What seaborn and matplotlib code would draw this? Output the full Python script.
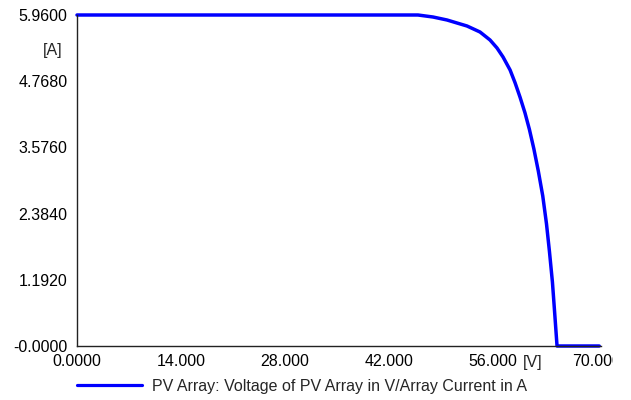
import matplotlib
matplotlib.use("Agg")
import matplotlib.pyplot as plt
from matplotlib.transforms import Bbox, TransformedBbox
import seaborn as sns
import pandas as pd

voltage = [0, 10, 20, 30, 40, 45.9, 47.92, 49.81, 51.15, 52.5, 54.25, 55.6, 56.54, 57.35,
           58.3, 58.97, 59.64, 60.3, 60.9, 61.5, 62.1, 62.7, 63.2, 63.6, 64.0, 64.3,
           64.62, 70.3]
current = [5.96, 5.96, 5.96, 5.96, 5.96, 5.96, 5.924, 5.87, 5.816, 5.762, 5.654, 5.51, 5.366, 5.204,
           4.97, 4.74, 4.48, 4.2, 3.9, 3.55, 3.15, 2.7, 2.2, 1.7, 1.15, 0.6,
           0.0, 0.0]
xticks = [0, 14, 28, 42, 56, 70]
xticklabels = ["0.0000", "14.000", "28.000", "42.000", "56.000", "70.000"]
yticks = [0, 1.192, 2.384, 3.576, 4.768, 5.96]
yticklabels = ["-0.0000", "1.1920", "2.3840", "3.5760", "4.7680", "5.9600"]
series_name = "PV Array: Voltage of PV Array in V/Array Current in A"

df = pd.DataFrame({"V": voltage, "I": current, "series": series_name})

sns.set_style("white")
plt.rcParams["font.family"] = ["Liberation Sans", "DejaVu Sans"]
FS = 11.5

fig = plt.figure(figsize=(6.31, 4.0), dpi=100)
ax = fig.add_axes([77 / 631, 1 - 346 / 400, (597 - 77) / 631, (346 - 15) / 400])

sns.lineplot(data=df, x="V", y="I", hue="series", palette=["#0000ff"], ax=ax,
             linewidth=2.5, clip_on=False, legend=True)

ax.set_xlim(0, 70)
ax.set_ylim(0, 5.96)
ax.set_xticks(xticks)
ax.set_xticklabels(xticklabels, fontsize=FS)
ax.set_yticks(yticks)
ax.set_yticklabels(yticklabels, fontsize=FS)
ax.tick_params(axis="both", length=0, colors="black")
ax.tick_params(axis="x", pad=6)
ax.tick_params(axis="y", pad=7)
ax.set_xlabel("")
ax.set_ylabel("")
for s in ["top", "right"]:
    ax.spines[s].set_visible(False)
for s in ["left", "bottom"]:
    ax.spines[s].set_color("#222222")
    ax.spines[s].set_linewidth(1.0)
ax.spines["bottom"].set_bounds(0, 70.5)

clip = TransformedBbox(Bbox.from_extents(0, 0, 6.13, 4.0), fig.dpi_scale_trans)
for lab in ax.get_xticklabels():
    lab.set_clip_on(True)
    lab.set_clip_box(clip)

fig.text(63 / 631, 1 - 50 / 400, "[A]", fontsize=FS, ha="right", va="center")
fig.text(533 / 631, 1 - 363 / 400, "[V]", fontsize=FS, ha="center", va="center")

leg = ax.legend(loc="center left", bbox_to_anchor=(77 / 631, 1 - 386 / 400),
                bbox_transform=fig.transFigure, frameon=False, fontsize=FS,
                handlelength=4.1, handletextpad=0.6, borderpad=0, borderaxespad=0)
for line in leg.get_lines():
    line.set_linewidth(2.3)

fig.savefig("out.png", dpi=100)
